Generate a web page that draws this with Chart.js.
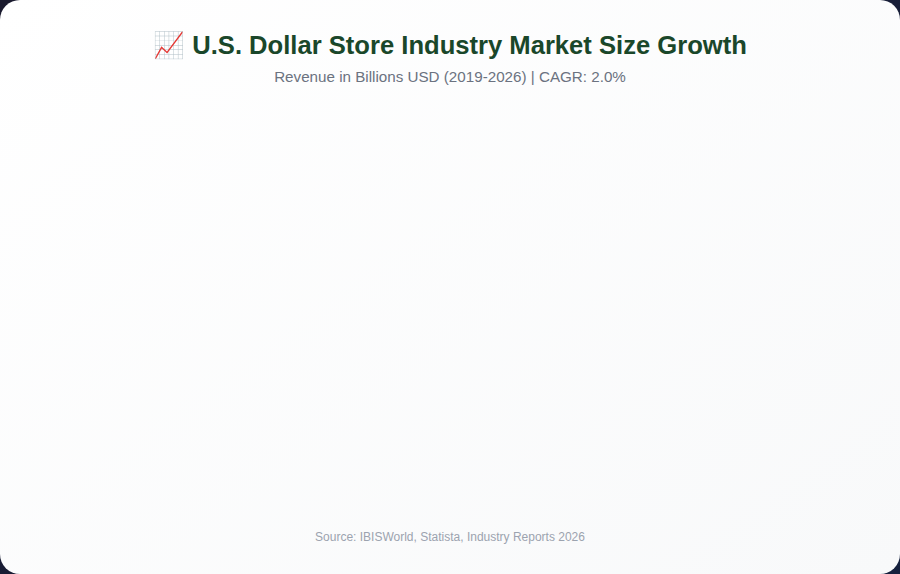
<!DOCTYPE html>
<html lang="en">
<head>
<meta charset="utf-8">
<title>U.S. Dollar Store Industry Market Size Growth</title>
<script src="https://cdn.jsdelivr.net/npm/chart.js@4"></script>
<style>
  * { margin: 0; padding: 0; box-sizing: border-box; }
  html, body { width: 900px; height: 574px; overflow: hidden; }
  body {
    background: linear-gradient(135deg, #1a1a2e 0%, #16213e 100%);
    font-family: "Liberation Sans", Arial, sans-serif;
  }
  .card {
    position: relative;
    width: 900px;
    height: 574px;
    border-radius: 20px;
    background: linear-gradient(145deg, #ffffff 0%, #f8f9fa 100%);
    overflow: hidden;
  }
  h1 {
    position: absolute;
    top: 30px;
    left: 0;
    width: 100%;
    text-align: center;
    font-size: 25.6px;
    line-height: 30px;
    font-weight: 700;
    color: #1a472a;
  }
  h1 span { font-weight: 400; }
  .subtitle {
    position: absolute;
    top: 68px;
    left: 0;
    width: 100%;
    text-align: center;
    font-size: 15.2px;
    line-height: 18px;
    color: #6b7280;
  }
  .chart-box { position: absolute; left: 30px; top: 100px; width: 840px; height: 415px; }
  .source {
    position: absolute;
    top: 530px;
    left: 0;
    width: 100%;
    text-align: center;
    font-size: 12px;
    line-height: 14px;
    color: #9ca3af;
  }
</style>
</head>
<body>
<div class="card">
  <h1><span>📈</span> U.S. Dollar Store Industry Market Size Growth</h1>
  <div class="subtitle">Revenue in Billions USD (2019-2026) | CAGR: 2.0%</div>
  <div class="chart-box"><canvas id="marketChart"></canvas></div>
  <div class="source">Source: IBISWorld, Statista, Industry Reports 2026</div>
</div>
<script>
  const years = [];
  const revenue = [];

  new Chart(document.getElementById("marketChart"), {
    type: "bar",
    data: {
      labels: years,
      datasets: [{ label: "Revenue", data: revenue }],
    },
    options: {
      responsive: true,
      maintainAspectRatio: false,
      animation: false,
      plugins: { legend: { display: false }, tooltip: { enabled: false } },
      scales: { x: { display: false }, y: { display: false } },
    },
  });
</script>
</body>
</html>
